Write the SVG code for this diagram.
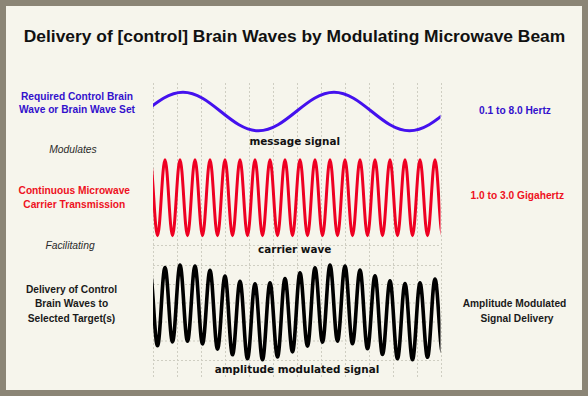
<svg xmlns="http://www.w3.org/2000/svg" width="588" height="396" viewBox="0 0 588 396">
<style>
.lbl{font-family:"Liberation Sans",Arial,sans-serif;font-size:10.2px;font-weight:bold;text-anchor:middle}
.it{font-family:"Liberation Sans",Arial,sans-serif;font-size:10.3px;font-style:italic;fill:#2a2a2a;text-anchor:middle}
.wl{font-family:"DejaVu Sans",Verdana,sans-serif;font-size:10.4px;font-weight:bold;fill:#111;text-anchor:middle}
.grid{stroke:#cfcec2;stroke-width:1;stroke-dasharray:2,2;fill:none}
.wave{fill:none;stroke-linejoin:round;stroke-linecap:round}
</style>
<defs>
<clipPath id="plot"><rect x="153" y="70" width="287.5" height="310"/></clipPath>
</defs>
<rect x="0" y="0" width="588" height="396" fill="#8b8576"/>
<rect x="6" y="6" width="576" height="384" fill="#f6f5ec"/>
<text x="294.5" y="42" font-family="'Liberation Sans',Arial,sans-serif" font-size="17.4" font-weight="bold" fill="#111" text-anchor="middle">Delivery of [control] Brain Waves by Modulating Microwave Beam</text>
<g id="grid">
<path class="grid" d="M153.5,83V378M177.5,83V378M201.5,83V378M225.5,83V378M249.5,83V378M273.5,83V378M297.5,83V378M321.5,83V378M345.5,83V378M369.5,83V378M393.5,83V378M417.5,83V378M441.5,83V378"/>
<path class="grid" d="M153,245.5H441M153,265.5H441M153,284.5H441M153,303H441M153,322H441M153,341H441M153,360.5H441"/>
</g>
<g id="message-wave" clip-path="url(#plot)">
<path class="wave" stroke="#4411ee" stroke-width="3" d="M107.5,130.8 C135,130.8 155.5,92.2 183,92.2 S231,130.8 258.5,130.8 S306.5,92.2 334,92.2 S382,130.8 409.5,130.8 S457.5,92.2 485,92.2"/>
</g>
<g id="carrier-wave" clip-path="url(#plot)">
<path class="wave" stroke="#ee0022" stroke-width="3" d="M142.5,235.8 C145.23,235.8 147.27,159.8 150,159.8 S154.77,235.8 157.5,235.8 S162.27,159.8 165,159.8 S169.77,235.8 172.5,235.8 S177.27,159.8 180,159.8 S184.77,235.8 187.5,235.8 S192.27,159.8 195,159.8 S199.77,235.8 202.5,235.8 S207.27,159.8 210,159.8 S214.77,235.8 217.5,235.8 S222.27,159.8 225,159.8 S229.77,235.8 232.5,235.8 S237.27,159.8 240,159.8 S244.77,235.8 247.5,235.8 S252.27,159.8 255,159.8 S259.77,235.8 262.5,235.8 S267.27,159.8 270,159.8 S274.77,235.8 277.5,235.8 S282.27,159.8 285,159.8 S289.77,235.8 292.5,235.8 S297.27,159.8 300,159.8 S304.77,235.8 307.5,235.8 S312.27,159.8 315,159.8 S319.77,235.8 322.5,235.8 S327.27,159.8 330,159.8 S334.77,235.8 337.5,235.8 S342.27,159.8 345,159.8 S349.77,235.8 352.5,235.8 S357.27,159.8 360,159.8 S364.77,235.8 367.5,235.8 S372.27,159.8 375,159.8 S379.77,235.8 382.5,235.8 S387.27,159.8 390,159.8 S394.77,235.8 397.5,235.8 S402.27,159.8 405,159.8 S409.77,235.8 412.5,235.8 S417.27,159.8 420,159.8 S424.77,235.8 427.5,235.8 S432.27,159.8 435,159.8 S439.77,235.8 442.5,235.8 S447.27,159.8 450,159.8"/>
</g>
<g id="am-wave" clip-path="url(#plot)">
<path class="wave" stroke="#000" stroke-width="3.6" d="M142.5,351.5 C145.23,351.5 147.27,272.5 150,272.5 S154.77,345.8 157.5,345.8 S162.27,267.5 165,267.5 S169.77,341.9 172.5,341.9 S177.27,265.1 180,265.1 S184.77,341.2 187.5,341.2 S192.27,266.1 195,266.1 S199.77,343.9 202.5,343.9 S207.27,270.3 210,270.3 S214.77,349.1 217.5,349.1 S222.27,276.1 225,276.1 S229.77,354.8 232.5,354.8 S237.27,281.2 240,281.2 S244.77,358.8 247.5,358.8 S252.27,283.7 255,283.7 S259.77,359.7 262.5,359.7 S267.27,282.7 270,282.7 S274.77,357 277.5,357 S282.27,278.6 285,278.6 S289.77,351.9 292.5,351.9 S297.27,272.9 300,272.9 S304.77,346.2 307.5,346.2 S312.27,267.8 315,267.8 S319.77,342.1 322.5,342.1 S327.27,265.1 330,265.1 S334.77,341.1 337.5,341.1 S342.27,266 345,266 S349.77,343.7 352.5,343.7 S357.27,270 360,270 S364.77,348.8 367.5,348.8 S372.27,275.7 375,275.7 S379.77,354.5 382.5,354.5 S387.27,280.9 390,280.9 S394.77,358.7 397.5,358.7 S402.27,283.6 405,283.6 S409.77,359.7 412.5,359.7 S417.27,282.9 420,282.9 S424.77,357.3 427.5,357.3 S432.27,279 435,279 S439.77,352.3 442.5,352.3 S447.27,273.3 450,273.3"/>
</g>
<g id="wave-labels">
<text class="wl" x="294.7" y="145.3">message signal</text>
<text class="wl" x="294.7" y="252.5">carrier wave</text>
<text class="wl" x="297" y="373.3">amplitude modulated signal</text>
</g>
<g id="left-message">
<text class="lbl" fill="#3311cc" x="77" y="100">Required Control Brain</text>
<text class="lbl" fill="#3311cc" x="77" y="113.3">Wave or Brain Wave Set</text>
</g>
<g id="left-modulates"><text class="it" x="73" y="153.3">Modulates</text></g>
<g id="left-carrier">
<text class="lbl" fill="#ee1122" x="74.3" y="194.3">Continuous Microwave</text>
<text class="lbl" fill="#ee1122" x="74.3" y="208.3">Carrier Transmission</text>
</g>
<g id="left-facilitating"><text class="it" x="70" y="249.3">Facilitating</text></g>
<g id="left-delivery">
<text class="lbl" fill="#1a1a1a" x="71.5" y="293.3">Delivery of Control</text>
<text class="lbl" fill="#1a1a1a" x="71.5" y="307.3">Brain Waves to</text>
<text class="lbl" fill="#1a1a1a" x="71.5" y="321.7">Selected Target(s)</text>
</g>
<g id="right-hertz"><text class="lbl" fill="#3311cc" x="515" y="114.3">0.1 to 8.0 Hertz</text></g>
<g id="right-ghz"><text class="lbl" fill="#ee1122" x="517.3" y="199.3">1.0 to 3.0 Gigahertz</text></g>
<g id="right-am">
<text class="lbl" fill="#1a1a1a" x="514.5" y="306.7">Amplitude Modulated</text>
<text class="lbl" fill="#1a1a1a" x="517" y="322.3">Signal Delivery</text>
</g>
</svg>
